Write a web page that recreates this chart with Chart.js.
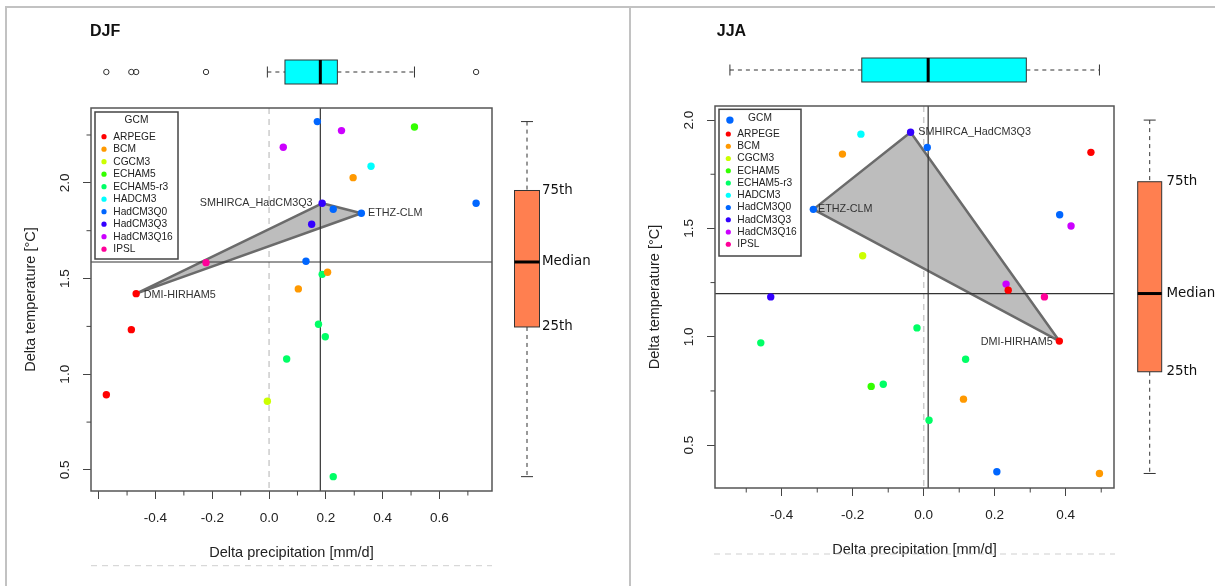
<!DOCTYPE html>
<html>
<head>
<meta charset="utf-8">
<script src="https://cdn.jsdelivr.net/npm/chart.js@4.4.1/dist/chart.umd.min.js"></script>
<style>
html, body { margin: 0; padding: 0; background: #fff; }
body { width: 1215px; height: 586px; position: relative; overflow: hidden; }
.frame { position: absolute; background: #c2c2c2; }
.panel { position: absolute; top: 0; }
</style>
</head>
<body>
<div class="frame" style="left:5px;top:6px;width:1210px;height:2px"></div>
<div class="frame" style="left:5px;top:6px;width:2px;height:580px"></div>
<div class="frame" style="left:629px;top:6px;width:2px;height:580px"></div>
<canvas id="djf" class="panel" style="left:0"></canvas>
<canvas id="jja" class="panel" style="left:632px"></canvas>
<script>
// GCM of each RCM run (same order in both seasons)
const gcms = ['ARPEGE', 'BCM', 'CGCM3', 'ECHAM5', 'ECHAM5-r3', 'HADCM3', 'HadCM3Q0', 'HadCM3Q3', 'HadCM3Q16', 'IPSL'];
const runGcm = [0, 0, 0, 1, 1, 1, 2, 3, 4, 4, 4, 4, 4, 5, 6, 6, 6, 6, 6, 7, 7, 8, 8, 9];
const rcmNames = ['DMI-HIRHAM5', 'ETHZ-CLM', 'SMHIRCA_HadCM3Q3'];
const rcmRun = [0, 14, 19];

// delta precipitation [mm/d] and delta temperature [°C]
const djfPrecip = [-0.468, -0.485, -0.573, 0.296, 0.206, 0.103, -0.006, 0.512, 0.187, 0.174, 0.198, 0.062, 0.226,
  0.359, 0.325, 0.170, 0.226, 0.130, 0.729, 0.187, 0.150, 0.255, 0.050, -0.222];
const djfTemp = [1.421, 1.233, 0.893, 2.027, 1.533, 1.446, 0.859, 2.292, 1.522, 1.261, 1.196, 1.080, 0.465,
  2.087, 1.841, 2.320, 1.862, 1.590, 1.893, 1.893, 1.784, 2.273, 2.186, 1.583];
const jjaPrecip = [0.382, 0.471, 0.238, -0.229, 0.112, 0.495, -0.172, -0.148, 0.118, -0.459, -0.019, -0.114, 0.015,
  -0.177, -0.311, -0.546, 0.010, 0.383, 0.206, -0.037, -0.431, 0.415, 0.232, 0.340];
const jjaTemp = [0.980, 1.851, 1.215, 1.843, 0.712, 0.369, 1.374, 0.771, 0.896, 0.972, 1.041, 0.781, 0.615,
  1.935, 1.588, 2.000, 1.874, 1.563, 0.377, 1.944, 1.184, 1.511, 1.243, 1.184];

// axis ticks
const djfXTicks = [-0.6, -0.4, -0.2, 0, 0.2, 0.4, 0.6];
const djfXLabels = ['', '-0.4', '-0.2', '0.0', '0.2', '0.4', '0.6'];
const djfXMinor = [-0.5, -0.3, -0.1, 0.1, 0.3, 0.5, 0.7];
const djfYTicks = [0.5, 1.0, 1.5, 2.0];
const djfYLabels = ['0.5', '1.0', '1.5', '2.0'];
const djfYMinor = [0.75, 1.25, 1.75, 2.25];
const jjaXTicks = [-0.4, -0.2, 0, 0.2, 0.4];
const jjaXLabels = ['-0.4', '-0.2', '0.0', '0.2', '0.4'];
const jjaXMinor = [-0.5, -0.3, -0.1, 0.1, 0.3, 0.5];
const jjaYTicks = [0.5, 1.0, 1.5, 2.0];
const jjaYLabels = ['0.5', '1.0', '1.5', '2.0'];
const jjaYMinor = [0.75, 1.25, 1.75];
const boxLabels = ['75th', 'Median', '25th'];

const gcmColors = ['#FF0000', '#FF9900', '#CCFF00', '#33FF00', '#00FF66', '#00FFFF', '#0066FF', '#3300FF', '#CC00FF', '#FF0099'];
const SANS = '"Liberation Sans", Arial, sans-serif';

const djfLayout = {
  name: 'DJF', width: 629, area: { left: 91, top: 108, right: 492, bottom: 491 },
  xRange: [-0.627, 0.785], yRange: [0.390, 2.391],
  xTitlePad: 24.3, yTitlePad: 22.3,
  title: { x: 90, y: 32 },
  topBox: { y: 72, h: 24 },
  sideBox: { x: 527, w: 25, labelX: 542 },
  legend: { left: 95, top: 112, right: 178, bottom: 259, titleY: 120, firstY: 136.7, step: 12.5, dotX: 104, textX: 113.3 },
  rcmOffset: [[7.6, 1, 'left'], [6.6, 0, 'left'], [-9.6, 0, 'right']],
  dash: { y: 565.7, x1: 91, x2: 492 }
};
const jjaLayout = {
  name: 'JJA', width: 583, area: { left: 83, top: 106, right: 482, bottom: 488 },
  xRange: [-0.588, 0.536], yRange: [0.302, 2.065],
  xTitlePad: 27.3, yTitlePad: 14.3,
  title: { x: 84.8, y: 32 },
  topBox: { y: 70, h: 24 },
  sideBox: { x: 517.7, w: 24, labelX: 534.5 },
  legend: { left: 87, top: 109.3, right: 169, bottom: 256, titleY: 118.3, firstY: 134, step: 12.25, dotX: 96.3, textX: 105.3 },
  rcmOffset: [[-6.6, 0.7, 'right'], [4.7, 0, 'left'], [7.6, 0, 'left']],
  dash: { y: 554, x1: 82, x2: 483 }
};

function fivenum(v) {
  const s = [...v].sort((a, b) => a - b), n = s.length;
  const n4 = Math.floor((n + 3) / 2) / 2;
  return [1, n4, (n + 1) / 2, n + 1 - n4, n].map(d => 0.5 * (s[Math.floor(d) - 1] + s[Math.ceil(d) - 1]));
}
function boxStats(v) {
  const f = fivenum(v), q1 = f[1], q3 = f[3], w = 1.5 * (q3 - q1);
  const inside = v.filter(e => e >= q1 - w && e <= q3 + w);
  return { q1, med: f[2], q3, lo: Math.min(...inside), hi: Math.max(...inside), out: v.filter(e => e < q1 - w || e > q3 + w) };
}

function seg(ctx, x1, y1, x2, y2) {
  ctx.beginPath(); ctx.moveTo(x1, y1); ctx.lineTo(x2, y2); ctx.stroke();
}

function drawLegend(ctx, G) {
  ctx.save();
  ctx.fillStyle = '#fff';
  ctx.fillRect(G.left, G.top, G.right - G.left, G.bottom - G.top);
  ctx.strokeStyle = '#444'; ctx.lineWidth = 1.5;
  ctx.strokeRect(G.left, G.top, G.right - G.left, G.bottom - G.top);
  ctx.font = '10.2px ' + SANS;
  ctx.fillStyle = '#222'; ctx.textBaseline = 'middle'; ctx.textAlign = 'center';
  ctx.fillText('GCM', (G.left + G.right) / 2, G.titleY);
  ctx.textAlign = 'left';
  gcms.forEach((g, i) => {
    const yy = G.firstY + i * G.step;
    ctx.fillStyle = gcmColors[i];
    ctx.beginPath(); ctx.arc(G.dotX, yy, 2.6, 0, Math.PI * 2); ctx.fill();
    ctx.fillStyle = '#222';
    ctx.fillText(g, G.textX, yy);
  });
  ctx.restore();
}

function makePanel(id, L, px, py, xt, xl, xm, yt, yl, ym) {
  const canvas = document.getElementById(id);
  canvas.width = L.width; canvas.height = 586;
  const sx = boxStats(px), sy = boxStats(py);
  const TRI = 0;

  const datasets = [{
    data: [rcmRun[0], rcmRun[2], rcmRun[1], rcmRun[0]].map(i => ({ x: px[i], y: py[i] })),
    showLine: true, pointRadius: 0, borderColor: '#6b6b6b', borderWidth: 2.5,
    borderJoinStyle: 'round', fill: false, order: 10
  }];
  gcms.forEach((g, k) => {
    const pts = [];
    runGcm.forEach((m, i) => { if (m === k) pts.push({ x: px[i], y: py[i] }); });
    datasets.push({ label: g, data: pts, pointRadius: 3.7, pointBorderWidth: 0, backgroundColor: gcmColors[k], order: 0 });
  });

  const decor = {
    id: 'decor',
    beforeDatasetsDraw(chart) {
      const { ctx, chartArea: a, scales: { x } } = chart;
      ctx.save();
      ctx.strokeStyle = '#cccccc'; ctx.lineWidth = 1.5; ctx.setLineDash([6, 5]);
      const x0 = x.getPixelForValue(0);
      seg(ctx, x0, a.top, x0, a.bottom);
      ctx.restore();
      drawLegend(ctx, L.legend);
    },
    beforeDatasetDraw(chart, args) {
      if (args.index !== TRI) return;
      const ctx = chart.ctx, p = args.meta.data;
      ctx.save();
      ctx.fillStyle = '#bdbdbd';
      ctx.beginPath();
      p.forEach((e, i) => i ? ctx.lineTo(e.x, e.y) : ctx.moveTo(e.x, e.y));
      ctx.closePath(); ctx.fill();
      ctx.restore();
    },
    afterDatasetDraw(chart, args) {
      if (args.index !== TRI) return;
      const { ctx, chartArea: a, scales: { x, y } } = chart;
      ctx.save();
      ctx.strokeStyle = '#333'; ctx.lineWidth = 1.2;
      const mx = x.getPixelForValue(sx.med), my = y.getPixelForValue(sy.med);
      seg(ctx, mx, a.top, mx, a.bottom);
      seg(ctx, a.left, my, a.right, my);
      ctx.restore();
    },
    afterDatasetsDraw(chart) {
      const { ctx, scales: { x, y } } = chart;
      ctx.save();
      ctx.font = '10.8px ' + SANS; ctx.fillStyle = '#333'; ctx.textBaseline = 'middle';
      rcmNames.forEach((n, k) => {
        const i = rcmRun[k], o = L.rcmOffset[k];
        ctx.textAlign = o[2];
        ctx.fillText(n, x.getPixelForValue(px[i]) + o[0], y.getPixelForValue(py[i]) + o[1]);
      });
      ctx.restore();
    },
    afterDraw(chart) {
      const { ctx, chartArea: a, scales: { x, y } } = chart;
      ctx.save();
      // plot frame
      ctx.strokeStyle = '#555'; ctx.lineWidth = 1.5;
      ctx.strokeRect(a.left, a.top, a.right - a.left, a.bottom - a.top);
      // minor ticks
      ctx.strokeStyle = '#444'; ctx.lineWidth = 1;
      xm.forEach(v => { const p = x.getPixelForValue(v); seg(ctx, p, a.bottom, p, a.bottom + 4.5); });
      ym.forEach(v => { const p = y.getPixelForValue(v); seg(ctx, a.left, p, a.left - 4.5, p); });

      // horizontal boxplot of precipitation
      const T = L.topBox, h = T.h;
      const X = v => x.getPixelForValue(v);
      ctx.strokeStyle = '#333'; ctx.lineWidth = 1;
      ctx.setLineDash([4, 4]);
      seg(ctx, X(sx.lo), T.y, X(sx.q1), T.y);
      seg(ctx, X(sx.q3), T.y, X(sx.hi), T.y);
      ctx.setLineDash([]);
      seg(ctx, X(sx.lo), T.y - 5.5, X(sx.lo), T.y + 5.5);
      seg(ctx, X(sx.hi), T.y - 5.5, X(sx.hi), T.y + 5.5);
      ctx.fillStyle = '#00FFFF';
      ctx.fillRect(X(sx.q1), T.y - h / 2, X(sx.q3) - X(sx.q1), h);
      ctx.strokeRect(X(sx.q1), T.y - h / 2, X(sx.q3) - X(sx.q1), h);
      ctx.lineWidth = 3; ctx.strokeStyle = '#000';
      seg(ctx, X(sx.med), T.y - h / 2, X(sx.med), T.y + h / 2);
      ctx.lineWidth = 1; ctx.strokeStyle = '#333';
      sx.out.forEach(v => { ctx.beginPath(); ctx.arc(X(v), T.y, 2.7, 0, Math.PI * 2); ctx.stroke(); });

      // vertical boxplot of temperature
      const S = L.sideBox, w = S.w;
      const Y = v => y.getPixelForValue(v);
      ctx.setLineDash([4, 4]);
      seg(ctx, S.x, Y(sy.hi), S.x, Y(sy.q3));
      seg(ctx, S.x, Y(sy.q1), S.x, Y(sy.lo));
      ctx.setLineDash([]);
      seg(ctx, S.x - 6, Y(sy.hi), S.x + 6, Y(sy.hi));
      seg(ctx, S.x - 6, Y(sy.lo), S.x + 6, Y(sy.lo));
      ctx.fillStyle = '#FF7F50';
      ctx.fillRect(S.x - w / 2, Y(sy.q3), w, Y(sy.q1) - Y(sy.q3));
      ctx.strokeRect(S.x - w / 2, Y(sy.q3), w, Y(sy.q1) - Y(sy.q3));
      ctx.lineWidth = 3; ctx.strokeStyle = '#000';
      seg(ctx, S.x - w / 2, Y(sy.med), S.x + w / 2, Y(sy.med));
      ctx.font = '13.4px "DejaVu Sans", sans-serif'; ctx.fillStyle = '#111';
      ctx.textAlign = 'left'; ctx.textBaseline = 'middle';
      [sy.q3, sy.med, sy.q1].forEach((v, i) => ctx.fillText(boxLabels[i], S.labelX, Y(v)));

      // grey dashed line under the axis title
      ctx.strokeStyle = '#cfcfcf'; ctx.lineWidth = 1; ctx.setLineDash([6, 5]);
      seg(ctx, L.dash.x1, L.dash.y, L.dash.x2, L.dash.y);
      ctx.setLineDash([]);

      // season title
      ctx.font = 'bold 16px ' + SANS; ctx.fillStyle = '#111';
      ctx.fillText(L.name, L.title.x, L.title.y);
      ctx.restore();
    }
  };

  const tickFont = { family: SANS, size: 13.5 };
  const titleFont = { family: SANS, size: 14.5 };
  return new Chart(canvas, {
    type: 'scatter',
    data: { datasets },
    options: {
      responsive: false, animation: false, devicePixelRatio: 1, events: [],
      layout: { padding: { left: 0, top: L.area.top, right: L.width - L.area.right, bottom: 0 } },
      plugins: { legend: { display: false }, tooltip: { enabled: false } },
      scales: {
        x: {
          type: 'linear', position: 'bottom', min: L.xRange[0], max: L.xRange[1],
          afterBuildTicks: s => { s.ticks = xt.map(v => ({ value: v })); },
          afterFit: s => { s.height = 586 - L.area.bottom; },
          ticks: { callback: (v, i) => xl[i], autoSkip: false, maxRotation: 0, minRotation: 0, padding: 11.4, color: '#222', font: tickFont },
          grid: { drawOnChartArea: false, tickLength: 8, tickColor: '#444', tickWidth: 1 },
          border: { display: false },
          title: { display: true, text: 'Delta precipitation [mm/d]', color: '#222', font: titleFont, padding: { top: 0, bottom: L.xTitlePad } }
        },
        y: {
          type: 'linear', position: 'left', min: L.yRange[0], max: L.yRange[1],
          afterBuildTicks: s => { s.ticks = yt.map(v => ({ value: v })); },
          afterFit: s => { s.width = L.area.left; },
          ticks: { callback: (v, i) => yl[i], autoSkip: false, minRotation: 90, maxRotation: 90, crossAlign: 'center', padding: 8.6, color: '#222', font: tickFont },
          grid: { drawOnChartArea: false, tickLength: 8, tickColor: '#444', tickWidth: 1 },
          border: { display: false },
          title: { display: true, text: 'Delta temperature [°C]', color: '#222', font: titleFont, padding: { top: L.yTitlePad, bottom: 0 } }
        }
      }
    },
    plugins: [decor]
  });
}

makePanel('djf', djfLayout, djfPrecip, djfTemp, djfXTicks, djfXLabels, djfXMinor, djfYTicks, djfYLabels, djfYMinor);
makePanel('jja', jjaLayout, jjaPrecip, jjaTemp, jjaXTicks, jjaXLabels, jjaXMinor, jjaYTicks, jjaYLabels, jjaYMinor);
</script>
</body>
</html>
